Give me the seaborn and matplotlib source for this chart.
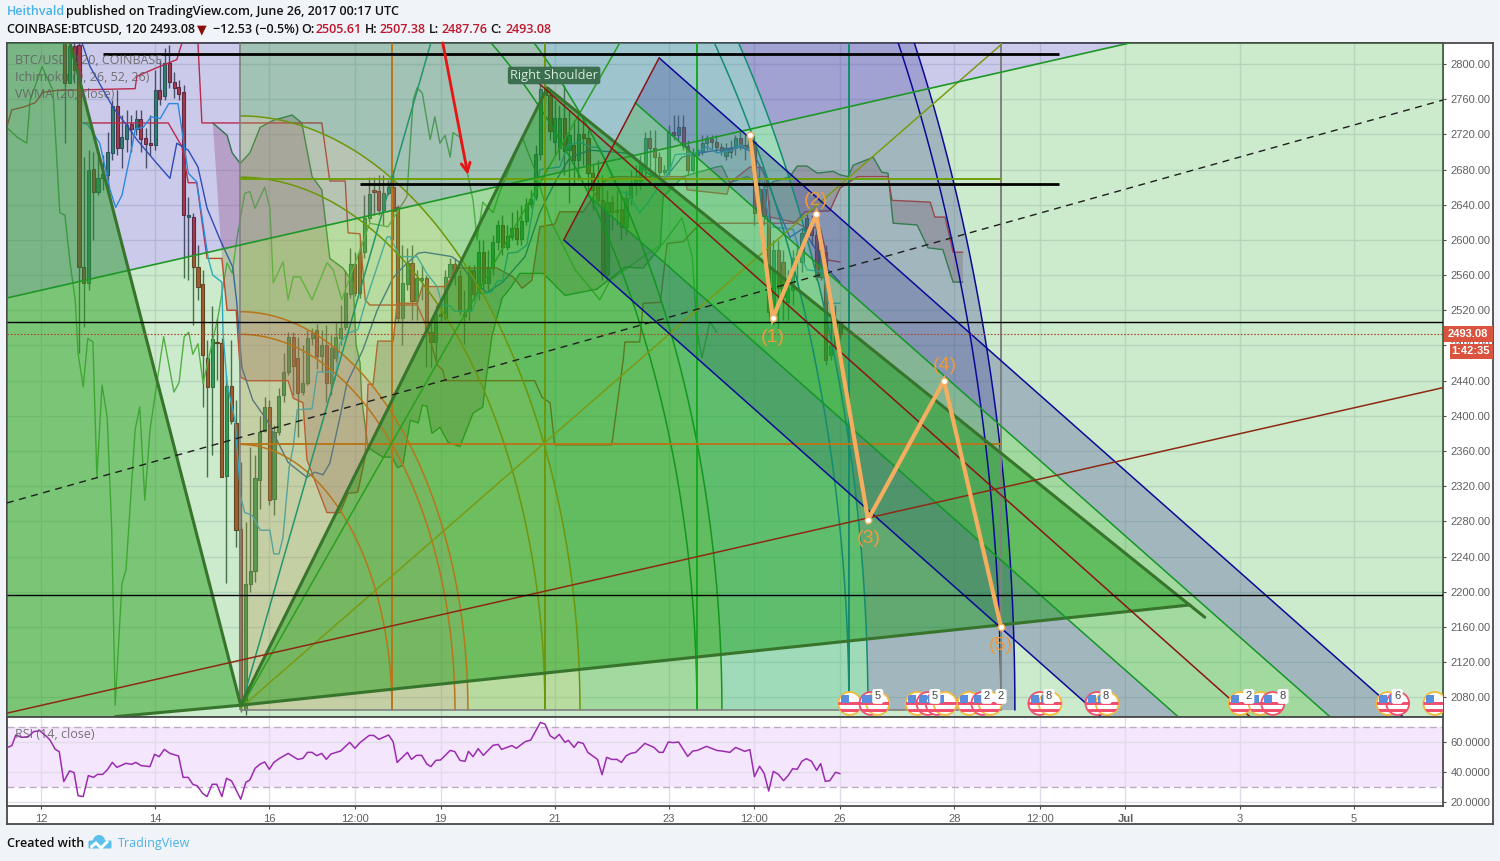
"""BTCUSD 2h TradingView chart with Ichimoku, Gann box and pitchfork drawings."""

import matplotlib.pyplot as plt
import numpy as np
import pandas as pd
import seaborn as sns
from matplotlib.patches import Circle, Ellipse, FancyBboxPatch, Polygon, Rectangle

# time axis is in days of June 2017 (Jul 1 = 31), one candle every 2 hours
FIRST_CANDLE_DAY = 12.417
OPENS = [2830, 2778, 2820, 2822, 2569, 2551, 2681, 2655, 2670, 2674, 2699, 2752, 2705, 2715, 2732, 2726, 2738, 2716, 2710, 2708,
         2770, 2764, 2801, 2780, 2774, 2768, 2626, 2626, 2569, 2550, 2466, 2433, 2484, 2483, 2332, 2434, 2392, 2271, 2066, 2209,
         2224, 2327, 2383, 2410, 2305, 2382, 2424, 2450, 2490, 2466, 2427, 2437, 2488, 2498, 2468, 2480, 2437, 2466, 2488, 2501,
         2539, 2573, 2585, 2586, 2625, 2656, 2656, 2634, 2653, 2660, 2637, 2511, 2550, 2574, 2531, 2555, 2557, 2495, 2484, 2516,
         2511, 2558, 2573, 2559, 2516, 2519, 2566, 2540, 2586, 2551, 2569, 2598, 2617, 2592, 2603, 2614, 2601, 2622, 2641, 2649,
         2698, 2772, 2765, 2711, 2705, 2739, 2702, 2708, 2691, 2720, 2716, 2676, 2665, 2645, 2560, 2643, 2634, 2635, 2615, 2648,
         2665, 2667, 2685, 2716, 2705, 2694, 2677, 2680, 2723, 2719, 2728, 2707, 2680, 2697, 2700, 2710, 2715, 2711, 2706, 2695,
         2704, 2704, 2716, 2708, 2705, 2711, 2631, 2658, 2627, 2512, 2589, 2575, 2529, 2543, 2580, 2575, 2608, 2615, 2606, 2558,
         2586, 2469, 2481, 2505.61]
CLOSES = [2778, 2820, 2793, 2569, 2551, 2679, 2655, 2670, 2675, 2700, 2752, 2705, 2717, 2731, 2726, 2738, 2715, 2709, 2708, 2770,
          2760, 2801, 2780, 2773, 2766, 2628, 2628, 2569, 2547, 2469, 2433, 2487, 2483, 2330, 2434, 2394, 2270, 2071, 2209, 2224,
          2329, 2382, 2410, 2304, 2382, 2423, 2450, 2490, 2457, 2426, 2437, 2488, 2494, 2468, 2480, 2437, 2477, 2490, 2500, 2540,
          2573, 2540, 2540, 2625, 2652, 2655, 2634, 2653, 2660, 2633, 2511, 2551, 2574, 2531, 2557, 2557, 2495, 2484, 2516, 2514,
          2558, 2573, 2564, 2519, 2514, 2566, 2538, 2586, 2551, 2569, 2598, 2617, 2592, 2604, 2614, 2601, 2622, 2641, 2647, 2698,
          2772, 2765, 2724, 2739, 2739, 2701, 2719, 2691, 2720, 2716, 2676, 2657, 2645, 2560, 2643, 2632, 2632, 2615, 2648, 2665,
          2670, 2685, 2716, 2705, 2694, 2677, 2680, 2723, 2719, 2728, 2707, 2680, 2697, 2702, 2710, 2716, 2711, 2706, 2701, 2704,
          2700, 2716, 2708, 2705, 2714, 2631, 2658, 2627, 2518, 2589, 2545, 2535, 2545, 2580, 2585, 2608, 2625, 2606, 2558, 2589,
          2463, 2480, 2505, 2493.08]
HIGHS = [2840, 2830, 2830, 2830, 2694, 2702, 2700, 2697, 2697, 2723, 2759, 2770, 2742, 2748, 2742, 2748, 2748, 2727, 2742, 2793,
         2805, 2818, 2822, 2791, 2782, 2776, 2649, 2631, 2594, 2566, 2486, 2525, 2511, 2489, 2446, 2486, 2418, 2347, 2279, 2365,
         2355, 2400, 2421, 2418, 2390, 2432, 2471, 2495, 2495, 2490, 2480, 2498, 2500, 2504, 2498, 2503, 2492, 2506, 2526, 2566,
         2591, 2586, 2600, 2651, 2672, 2672, 2674, 2674, 2668, 2680, 2640, 2594, 2591, 2594, 2566, 2571, 2560, 2509, 2526, 2526,
         2566, 2579, 2579, 2566, 2543, 2571, 2571, 2600, 2600, 2589, 2606, 2623, 2628, 2617, 2632, 2634, 2640, 2648, 2657, 2708,
         2776, 2776, 2770, 2759, 2753, 2776, 2748, 2736, 2742, 2742, 2725, 2685, 2691, 2674, 2657, 2651, 2657, 2651, 2657, 2680,
         2685, 2697, 2723, 2725, 2725, 2700, 2685, 2731, 2742, 2742, 2742, 2714, 2705, 2714, 2719, 2719, 2719, 2719, 2710, 2710,
         2714, 2719, 2725, 2719, 2722, 2719, 2685, 2668, 2645, 2600, 2600, 2589, 2566, 2589, 2594, 2614, 2630, 2628, 2628, 2600,
         2594, 2518, 2526, 2507.38]
LOWS = [2710, 2778, 2778, 2471, 2501, 2543, 2600, 2651, 2657, 2655, 2691, 2697, 2682, 2700, 2700, 2719, 2700, 2682, 2697, 2702,
        2753, 2759, 2773, 2761, 2759, 2557, 2554, 2503, 2532, 2410, 2330, 2355, 2441, 2330, 2210, 2391, 2251, 2063, 2060, 2200,
        2211, 2294, 2382, 2299, 2287, 2378, 2416, 2446, 2424, 2376, 2424, 2435, 2481, 2453, 2450, 2416, 2424, 2461, 2481, 2498,
        2534, 2536, 2534, 2579, 2620, 2628, 2628, 2617, 2651, 2600, 2507, 2481, 2543, 2509, 2509, 2532, 2455, 2455, 2460, 2507,
        2509, 2555, 2549, 2515, 2482, 2509, 2532, 2532, 2543, 2543, 2560, 2589, 2583, 2589, 2600, 2594, 2594, 2617, 2636, 2645,
        2691, 2753, 2714, 2697, 2691, 2674, 2642, 2662, 2668, 2685, 2657, 2634, 2640, 2554, 2554, 2611, 2617, 2600, 2606, 2640,
        2651, 2657, 2668, 2668, 2674, 2668, 2674, 2674, 2714, 2714, 2702, 2674, 2677, 2691, 2697, 2702, 2702, 2700, 2697, 2691,
        2693, 2697, 2702, 2691, 2702, 2617, 2623, 2617, 2509, 2503, 2498, 2509, 2509, 2526, 2549, 2564, 2600, 2594, 2555, 2555,
        2458, 2464, 2475, 2487.76]

KIJUN_DAYS = [11.40, 11.49, 11.69, 11.90, 12.04, 12.28, 13.65, 13.68, 14.00, 14.38, 14.47, 14.75, 14.82, 16.92, 17.06, 17.33, 17.38, 17.59, 17.68, 17.76, 18.59, 18.76, 18.94, 19.04, 19.08, 20.65, 20.78, 20.92, 21.00, 22.00, 22.20, 22.23, 22.49, 22.55, 22.85, 22.97, 23.25, 23.55, 25.25, 25.39, 25.65, 25.79, 26.00]
KIJUN_PRICES = [2728, 2748, 2751, 2756, 2768, 2770, 2772, 2786, 2795, 2805, 2824, 2824, 2733, 2733, 2667, 2667, 2608, 2607, 2532, 2526, 2526, 2501, 2458, 2452, 2440, 2440, 2421, 2415, 2367, 2367, 2463, 2484, 2484, 2528, 2529, 2596, 2598, 2619, 2619, 2614, 2614, 2577, 2575]
SPAN_B_DAYS = [12.65, 14.23, 14.47, 14.58, 14.73, 14.91, 15.17, 15.26, 15.42, 15.50, 15.61, 16.33, 16.42, 16.59, 16.66, 17.01, 17.24, 17.38, 17.55, 17.68, 17.73, 17.82, 17.90, 18.17, 18.24, 18.59, 18.68, 19.08, 19.20, 19.25, 19.99, 20.27, 20.43, 20.60, 20.74, 21.00, 21.09, 21.50, 21.85, 22.00, 23.28, 23.32, 24.02, 24.07, 24.42, 24.65, 24.72, 24.77, 25.21, 25.39, 25.82, 26.00, 26.31, 26.84, 26.91, 27.58, 27.66, 27.84, 27.98, 28.15]
SPAN_B_PRICES = [2733, 2733, 2706, 2665, 2665, 2579, 2579, 2520, 2520, 2444, 2440, 2440, 2420, 2415, 2350, 2290, 2290, 2312, 2313, 2353, 2436, 2436, 2485, 2485, 2528, 2528, 2547, 2547, 2558, 2568, 2568, 2558, 2545, 2554, 2615, 2618, 2632, 2632, 2666, 2672, 2672, 2657, 2652, 2665, 2683, 2682, 2665, 2626, 2620, 2632, 2633, 2659, 2672, 2672, 2645, 2643, 2626, 2626, 2586, 2586]
SPAN_A_DAYS = [15.01, 15.26, 15.35, 15.49, 15.66, 15.84, 16.07, 16.40, 16.57, 16.75, 16.92, 17.06, 17.29, 17.47, 17.52, 17.59, 17.62, 17.73, 17.99, 18.15, 18.25, 18.34, 18.47, 18.61, 18.68, 18.76, 18.85, 18.99, 19.13, 19.34, 19.57, 19.74, 19.78, 19.90, 20.08, 20.22, 20.39, 20.80, 21.18, 21.74, 22.23, 22.55, 22.85, 22.90, 23.25, 23.84, 23.93, 24.07, 24.37, 24.72, 24.82, 25.12, 25.25, 25.42, 25.60, 25.88, 26.00, 26.14, 26.23, 26.58, 26.73, 26.84, 26.93, 27.35, 27.54, 27.80, 27.98, 28.15]
SPAN_A_PRICES = [2733, 2719, 2699, 2687, 2699, 2728, 2736, 2742, 2733, 2672, 2657, 2579, 2568, 2551, 2481, 2460, 2418, 2364, 2353, 2353, 2341, 2344, 2395, 2392, 2412, 2411, 2380, 2387, 2370, 2365, 2403, 2410, 2433, 2490, 2534, 2545, 2562, 2562, 2537, 2544, 2569, 2568, 2592, 2649, 2672, 2683, 2684, 2665, 2672, 2660, 2666, 2672, 2684, 2684, 2676, 2678, 2674, 2672, 2685, 2694, 2677, 2676, 2619, 2617, 2591, 2589, 2552, 2552]
TENKAN_DAYS = [12.72, 12.82, 13.03, 13.21, 13.31, 13.42, 13.61, 13.65, 13.79, 13.93, 14.09, 14.24, 14.40, 14.58, 14.73, 14.93, 15.01, 15.17, 15.19, 15.26, 15.40, 15.50, 15.57, 15.70, 15.84, 16.01, 16.08, 16.17, 16.24, 16.35, 16.42, 16.49, 16.75, 16.84, 17.10, 17.15, 17.24, 17.38, 17.55, 17.68, 18.06, 18.11, 18.29, 18.59, 18.76, 18.94, 19.03, 19.17, 19.25, 19.55, 19.66, 19.90, 19.99, 20.09, 20.18, 20.34, 20.51, 20.65, 20.74, 21.09, 21.23, 21.44, 21.62, 21.79, 21.97, 22.14, 22.28, 22.49, 22.63, 22.90, 23.02, 23.11, 23.49, 23.67, 23.84, 24.12, 24.25, 24.42, 24.51, 24.65, 24.77, 25.18, 25.30, 25.42, 25.70, 25.79, 26.00]
TENKAN_PRICES = [2733, 2731, 2710, 2657, 2637, 2651, 2711, 2726, 2728, 2740, 2738, 2755, 2755, 2676, 2666, 2579, 2560, 2552, 2494, 2437, 2395, 2308, 2290, 2287, 2270, 2270, 2243, 2243, 2262, 2342, 2365, 2407, 2408, 2450, 2450, 2441, 2483, 2494, 2498, 2528, 2603, 2604, 2581, 2581, 2562, 2547, 2526, 2525, 2519, 2519, 2538, 2541, 2553, 2554, 2585, 2586, 2594, 2648, 2680, 2683, 2708, 2711, 2706, 2705, 2677, 2655, 2653, 2631, 2642, 2668, 2680, 2697, 2699, 2706, 2699, 2702, 2708, 2702, 2676, 2665, 2615, 2612, 2585, 2566, 2564, 2528, 2528]
VWMA_DAYS = [12.72, 12.86, 13.26, 13.53, 13.68, 14.03, 14.26, 14.38, 14.58, 14.75, 14.91, 15.14, 15.36, 15.43, 15.52, 15.71, 15.96, 16.33, 16.66, 16.80, 16.94, 17.06, 17.24, 17.36, 17.64, 17.89, 18.17, 18.34, 18.61, 18.73, 19.20, 19.34, 19.52, 19.81, 20.09, 20.48, 20.74, 21.00, 21.27, 21.62, 22.23, 22.37, 22.62, 22.90, 23.23, 23.55, 24.25, 24.47, 24.72, 24.90, 25.12, 25.35, 25.79, 26.00]
VWMA_PRICES = [2824, 2797, 2751, 2728, 2714, 2687, 2670, 2710, 2702, 2683, 2636, 2600, 2569, 2529, 2455, 2418, 2395, 2347, 2330, 2336, 2333, 2346, 2399, 2437, 2475, 2520, 2557, 2569, 2585, 2586, 2581, 2574, 2557, 2540, 2552, 2581, 2631, 2665, 2694, 2702, 2699, 2697, 2676, 2668, 2694, 2699, 2706, 2700, 2668, 2637, 2603, 2613, 2566, 2552]
LAGGING_DAYS = [11.40, 11.58, 11.75, 11.81, 12.02, 12.21, 12.33, 12.42, 12.51, 12.60, 12.65, 12.74, 12.82, 12.91, 12.98, 13.07, 13.16, 13.24, 13.30, 13.42, 13.49, 13.65, 13.73, 13.82, 13.91, 14.15, 14.33, 14.42, 14.51, 14.59, 14.66, 14.75, 14.84, 15.10, 15.26, 15.35, 15.43, 15.57, 15.66, 15.75, 15.92, 16.01, 16.07, 16.24, 16.33, 16.42, 16.54, 16.75, 17.01, 17.12, 17.27, 17.76, 18.08, 18.41, 18.52, 18.59, 18.68, 18.82, 18.90, 18.99, 19.08, 19.17, 19.22, 19.34, 19.57, 19.64, 19.74, 19.92, 20.04, 20.43, 20.65, 20.92, 21.36, 21.79, 21.97, 22.55, 22.90, 23.23, 23.41, 23.49, 23.58, 23.72, 23.84]
LAGGING_PRICES = [2728, 2717, 2710, 2759, 2797, 2770, 2631, 2628, 2574, 2532, 2471, 2433, 2488, 2484, 2330, 2435, 2399, 2270, 2071, 2210, 2225, 2384, 2410, 2304, 2384, 2490, 2427, 2438, 2490, 2495, 2470, 2482, 2437, 2512, 2574, 2562, 2600, 2653, 2655, 2636, 2660, 2636, 2551, 2575, 2532, 2558, 2558, 2532, 2574, 2566, 2532, 2619, 2615, 2649, 2759, 2773, 2767, 2714, 2740, 2710, 2719, 2694, 2722, 2717, 2645, 2600, 2643, 2631, 2655, 2717, 2680, 2623, 2566, 2532, 2554, 2581, 2596, 2625, 2581, 2498, 2466, 2507, 2495]

RSI_DAYS = [11.40, 11.49, 11.56, 11.66, 11.78, 11.87, 11.98, 12.10, 12.16, 12.25, 12.32, 12.40, 12.50, 12.58, 12.65, 12.74, 12.83, 12.92, 12.99, 13.08, 13.16, 13.25, 13.33, 13.49, 13.59, 13.66, 13.76, 13.91, 13.99, 14.07, 14.16, 14.26, 14.41, 14.49, 14.58, 14.66, 14.74, 14.83, 14.91, 15.00, 15.08, 15.17, 15.25, 15.34, 15.50, 15.59, 15.66, 15.75, 15.84, 15.92, 16.00, 16.08, 16.18, 16.33, 16.50, 16.59, 16.67, 16.75, 16.83, 16.92, 17.00, 17.08, 17.25, 17.41, 17.50, 17.59, 17.75, 17.83, 17.92, 18.09, 18.17, 18.24, 18.42, 18.49, 18.58, 18.67, 18.76, 18.83, 18.92, 19.00, 19.17, 19.25, 19.34, 19.43, 19.49, 19.57, 19.66, 19.75, 19.92, 20.01,
            20.07, 20.25, 20.33, 20.48, 20.58, 20.75, 20.83, 20.92, 21.00, 21.08, 21.18, 21.24, 21.34, 21.41, 21.50, 21.58, 21.75, 21.83, 21.91, 22.00, 22.09, 22.17, 22.25, 22.33, 22.42, 22.58, 22.74, 22.83, 22.90, 22.99, 23.08, 23.17, 23.33, 23.42, 23.50, 23.66, 23.84, 23.93, 24.07, 24.17, 24.33, 24.42, 24.50, 24.59, 24.67, 24.75, 24.83, 24.92, 25.01, 25.09, 25.17, 25.25, 25.33, 25.41, 25.50, 25.59, 25.66, 25.74, 25.82, 25.92, 26.00]
RSI_VALUES = [56.2, 57.6, 64.7, 63.1, 63.6, 66.9, 67.6, 63.6, 61.3, 55.1, 53.6, 33.6, 40.7, 39.6, 24.2, 23.6, 37.6, 36.4, 38.4, 38.4, 41.3, 46.4, 43.1, 45.8, 45.1, 46.4, 44.2, 43.6, 51.8, 50.2, 55.1, 52.4, 50.7, 36.4, 36.4, 31.8, 30.7, 25.8, 23.6, 31.8, 31.8, 23.6, 35.8, 34.0, 21.8, 33.1, 34.7, 42.4, 45.3, 46.7, 41.8, 46.4, 49.1, 52.4, 48.4, 49.1, 53.1, 53.1, 50.9, 52.4, 48.4, 52.0, 54.0, 59.8, 55.8, 59.6, 64.4, 64.4, 61.8, 64.7, 60.2, 46.4, 53.1, 48.4, 51.1, 51.1, 45.3, 43.6, 47.8, 48.0, 54.4, 53.6, 47.8, 47.1, 53.8, 50.2, 55.6, 51.1, 57.8, 58.4,
              55.1, 57.6, 55.8, 60.2, 61.3, 73.1, 72.0, 64.2, 62.2, 65.1, 59.8, 61.1, 56.4, 60.0, 59.1, 53.1, 48.4, 38.2, 49.8, 48.4, 48.4, 46.4, 50.7, 52.4, 53.1, 59.1, 56.4, 53.1, 53.1, 60.0, 59.6, 60.0, 50.4, 54.0, 54.4, 57.1, 54.4, 54.0, 53.1, 56.4, 53.8, 54.9, 36.9, 43.8, 39.1, 27.3, 40.4, 38.4, 34.2, 37.6, 42.2, 41.8, 47.1, 48.9, 47.1, 41.1, 45.6, 33.8, 34.2, 39.8, 38.9]

X_TICKS = [12, 14, 16, 17.5, 19, 21, 23, 24.5, 26, 28, 29.5, 31, 33, 35]
X_TICK_LABELS = ["12", "14", "16", "12:00", "19", "21", "23", "12:00", "26", "28", "12:00", "Jul", "3", "5"]
PRICE_TICKS = list(range(2080, 2801, 40))
RSI_TICKS = [20, 40, 60]

# drawings on the chart, in (day, price)
FAN_LINE_DAYS = [11.405, 31.08]
FAN_LINE_PRICES = [2534, 2824]
WEDGE_DAYS = [11.405, 12.51, 15.50, 13.30, 11.405]
WEDGE_PRICES = [2824, 2824, 2071, 2058, 2058]
TRIANGLE_DAYS = [15.50, 20.87, 32.13]
TRIANGLE_PRICES = [2071, 2773, 2185]
TRIANGLE_TAIL_DAY, TRIANGLE_TAIL_PRICE = 32.39, 2171
GANN_DAY, GANN_PRICE = 15.486, 2065.5
GANN_RADII = [2.663, 3.767, 3.994, 5.343, 5.957, 8.006, 8.444, 10.669, 11.002, 13.332, 13.577]
GANN_PRICE_PER_DAY = 113.4
GANN_LINE_COLORS = ["#b8761a"] * 3 + ["#6e960a"] * 2 + ["#14961e"] * 2 + ["#148c6e"] * 2 + ["#0a0a96"] * 2
GANN_BAND_EDGES = [0, 3.994, 5.957, 8.444, 11.002, 13.577]
GANN_BAND_COLORS = ["#b69148", "#8ab937", "#41b237", "#37b98c", "#41449b"]
GANN_COLUMNS = [18.149, 20.829, 23.492, 26.155, 28.818]
GANN_COLUMN_COLORS = ["#b8761a", "#6e960a", "#14aa1e", "#148c6e", "#808080"]
GANN_ROWS = [2669, 2368]
GANN_ROW_COLORS = ["#6ea00a", "#b8761a"]
FAN_APEX_DAY, FAN_APEX_PRICE = 15.50, 2068
FAN_END_DAYS = [18.83, 22.14, 28.82]
FAN_END_PRICES = [2824, 2824, 2822]
FAN_COLORS = ["#25966a", "#28a01e", "#7a9a14"]

FORK_START_DAYS = [22.83, 22.41, 20.69, 21.58, 21.16]
FORK_START_PRICES = [2807, 2756, 2780, 2651, 2600]
FORK_END_DAYS = [35.86, 34.58, 33.18, 31.92, 30.57]
FORK_END_PRICES = [2058, 2058, 2058, 2058, 2058]
FORK_COLORS = ["#0a0a96", "#149628", "#8c1414", "#149628", "#0a0a96"]

LEVEL_LINES = [2811, 2664, 2507, 2196]
LEVEL_STARTS = [13.09, 17.59, 11.405, 11.405]
LEVEL_ENDS = [29.83, 29.83, 36.56, 36.56]
LEVEL_WIDTHS = [2, 2, 1, 1]
MEDIAN_DAYS = [11.405, 36.56]
MEDIAN_PRICES = [2301, 2759]
BROWN_LINE_PRICES = [2062, 2432]

WAVE_DAYS = [24.42, 24.82, 25.58, 26.49, 27.82, 28.82]
WAVE_PRICES = [2719, 2511, 2629, 2282, 2440, 2160]
WAVE_LABEL_DAYS = [24.82, 25.58, 26.51, 27.84, 28.82]
WAVE_LABEL_PRICES = [2489, 2645, 2260, 2457, 2139]
WAVE_LABELS = ["(1)", "(2)", "(3)", "(4)", "(5)"]

LAST_PRICE = 2493.08
EVENT_DAYS = [26.17, 26.54, 26.66, 27.35, 27.54, 27.70, 27.84, 28.26, 28.50, 28.63, 29.50, 29.68, 30.50, 30.68, 33.01, 33.36, 33.58, 35.60, 35.77, 36.42]
EVENT_EDGES = ["o", "r", "o", "o", "r", "r", "o", "o", "r", "o", "r", "o", "r", "o", "o", "o", "r", "o", "r", "o"]
BADGE_DAYS = [26.66, 27.66, 28.57, 28.82, 29.66, 30.66, 33.16, 33.76, 35.76]
BADGE_LABELS = ["5", "5", "2", "2", "8", "8", "2", "8", "6"]

FONT_UI = "Open Sans"
FONT_AXIS = "Liberation Sans"
MUTED = "#5f5f5f"


def px_rect(left, top, right, bottom):
    return [left / 1500, 1 - bottom / 861, (right - left) / 1500, (bottom - top) / 861]


def draw_candles(ax):
    df = pd.DataFrame({"open": OPENS, "close": CLOSES, "high": HIGHS, "low": LOWS})
    df["day"] = FIRST_CANDLE_DAY + df.index / 12
    rising = df["close"] >= df["open"]
    ax.vlines(df["day"], df["low"], df["high"], color="#4d5a50", lw=1, zorder=2)
    bottoms = df[["open", "close"]].min(axis=1)
    heights = (df["close"] - df["open"]).abs().clip(lower=1.5)
    ax.bar(df["day"][rising], heights[rising], bottom=bottoms[rising], width=0.055,
           color="#2f9a5c", edgecolor="#2c5f45", linewidth=0.8, zorder=2.1)
    ax.bar(df["day"][~rising], heights[~rising], bottom=bottoms[~rising], width=0.055,
           color="#c8402c", edgecolor="#6e2620", linewidth=0.8, zorder=2.1)


def draw_ichimoku(ax):
    days_b = np.array(SPAN_B_DAYS)
    keep = days_b >= 15.0
    cloud_x = np.concatenate([SPAN_A_DAYS, days_b[keep][::-1]])
    cloud_y = np.concatenate([SPAN_A_PRICES, np.array(SPAN_B_PRICES)[keep][::-1]])
    ax.fill(cloud_x, cloud_y, color="#a8506e", alpha=0.32, lw=0, zorder=2.2)
    lines = [
        (LAGGING_DAYS, LAGGING_PRICES, "#5cb04a"),
        (SPAN_A_DAYS, SPAN_A_PRICES, "#2e8b2e"),
        (SPAN_B_DAYS, SPAN_B_PRICES, "#e8282a"),
        (KIJUN_DAYS, KIJUN_PRICES, "#e8282a"),
        (VWMA_DAYS, VWMA_PRICES, "#2f55b8"),
        (TENKAN_DAYS, TENKAN_PRICES, "#2aa8f0"),
    ]
    for xs, ys, color in lines:
        sns.lineplot(x=xs, y=ys, color=color, lw=1, sort=False, estimator=None, ax=ax, zorder=2.3)


def arc_points(radius, start=0, stop=np.pi / 2):
    theta = np.linspace(start, stop, 120)
    return (GANN_DAY + radius * np.cos(theta),
            GANN_PRICE + radius * GANN_PRICE_PER_DAY * np.sin(theta))


def draw_fills(ax):
    x_lo, x_hi = ax.get_xlim()
    y_lo, y_hi = ax.get_ylim()
    ax.fill([FAN_LINE_DAYS[0], FAN_LINE_DAYS[1], x_lo], [FAN_LINE_PRICES[0], FAN_LINE_PRICES[1], y_hi],
            color="#332faf", alpha=0.25, lw=0, zorder=3)
    ax.fill([FAN_LINE_DAYS[0], FAN_LINE_DAYS[1], x_hi, x_hi, x_lo],
            [FAN_LINE_PRICES[0], FAN_LINE_PRICES[1], y_hi, y_lo, y_lo],
            color="#37af37", alpha=0.25, lw=0, zorder=3)
    ax.fill(WEDGE_DAYS, WEDGE_PRICES, color="#2ba123", alpha=0.5, lw=0, zorder=3.1)

    for inner, outer, color in zip(GANN_BAND_EDGES[:-1], GANN_BAND_EDGES[1:], GANN_BAND_COLORS):
        ox, oy = arc_points(outer)
        ix, iy = arc_points(inner, np.pi / 2, 0)
        ax.fill(np.concatenate([ox, ix]), np.concatenate([oy, iy]), color=color, alpha=0.3, lw=0, zorder=3.2)

    # pitchfork bands, outer pair blue and the middle one green
    band_colors = ["#41449b", "#41b237", None, "#41449b"]
    pairs = [(0, 1), (1, 3), (3, 4)]
    for (a, b), color in zip(pairs, ["#41449b", "#41b237", "#41449b"]):
        xs = [FORK_START_DAYS[a], FORK_START_DAYS[b], FORK_END_DAYS[b], FORK_END_DAYS[a]]
        ys = [FORK_START_PRICES[a], FORK_START_PRICES[b], FORK_END_PRICES[b], FORK_END_PRICES[a]]
        ax.fill(xs, ys, color=color, alpha=0.3, lw=0, zorder=3.3)

    ax.fill(TRIANGLE_DAYS, TRIANGLE_PRICES, color="#009400", alpha=0.4, lw=0, zorder=3.4)


def draw_tools(ax):
    for rad, color in zip(GANN_RADII, GANN_LINE_COLORS):
        xs, ys = arc_points(rad)
        ax.plot(xs, ys, color=color, lw=1.1, zorder=4)
    top = ax.get_ylim()[1]
    ax.vlines(GANN_DAY, GANN_PRICE, top, color="#808080", lw=1.2, zorder=4)
    ax.vlines(GANN_COLUMNS, GANN_PRICE, top, colors=GANN_COLUMN_COLORS, lw=1.4, zorder=4)
    ax.hlines(GANN_PRICE, GANN_DAY, GANN_COLUMNS[-1], color="#808080", lw=1.2, zorder=4)
    ax.hlines(GANN_ROWS, GANN_DAY, GANN_COLUMNS[-1], colors=GANN_ROW_COLORS, lw=1.4, zorder=4)
    for end_x, end_y, color in zip(FAN_END_DAYS, FAN_END_PRICES, FAN_COLORS):
        ax.plot([FAN_APEX_DAY, end_x], [FAN_APEX_PRICE, end_y], color=color, lw=1.1, zorder=4)
    ax.plot(FAN_LINE_DAYS, FAN_LINE_PRICES, color="#1e9628", lw=1.2, zorder=4)

    ax.plot([WEDGE_DAYS[1], WEDGE_DAYS[2], WEDGE_DAYS[3]], [WEDGE_PRICES[1], WEDGE_PRICES[2], WEDGE_PRICES[3]],
            color="#38752c", lw=2.2, zorder=4.1)
    ax.plot(TRIANGLE_DAYS[:2] + [TRIANGLE_TAIL_DAY], TRIANGLE_PRICES[:2] + [TRIANGLE_TAIL_PRICE],
            color="#38752c", lw=2.2, zorder=4.1)
    ax.plot([TRIANGLE_DAYS[0], TRIANGLE_DAYS[2]], [TRIANGLE_PRICES[0], TRIANGLE_PRICES[2]],
            color="#38752c", lw=2.2, zorder=4.1)

    for sx, sy, ex, ey, color in zip(FORK_START_DAYS, FORK_START_PRICES, FORK_END_DAYS, FORK_END_PRICES, FORK_COLORS):
        ax.plot([sx, ex], [sy, ey], color=color, lw=1.1, zorder=4.2)
    ax.plot([FORK_START_DAYS[0], FORK_START_DAYS[4]], [FORK_START_PRICES[0], FORK_START_PRICES[4]],
            color="#8c1414", lw=1.1, zorder=4.2)

    ax.plot(MEDIAN_DAYS, MEDIAN_PRICES, color="#1e1e1e", lw=1, dashes=(5, 4), zorder=4.3)
    ax.plot(MEDIAN_DAYS, BROWN_LINE_PRICES, color="#8c2a14", lw=1.1, zorder=4.3)
    for price, start, end, width in zip(LEVEL_LINES, LEVEL_STARTS, LEVEL_ENDS, LEVEL_WIDTHS):
        ax.hlines(price, start, end, color="black", lw=width, zorder=4.4)
    ax.axhline(LAST_PRICE, color="#a8482e", lw=0.8, ls=(0, (1.5, 1.5)), zorder=4.4)

    ax.annotate("", xy=(19.48, 2674), xytext=(19.04, 2824), zorder=4.5,
                arrowprops=dict(arrowstyle="->", color="#e81414", lw=2, mutation_scale=16, shrinkA=0, shrinkB=0))

    ax.plot(WAVE_DAYS, WAVE_PRICES, color="#f5ae60", lw=3, solid_joinstyle="miter", zorder=5)
    ax.scatter(WAVE_DAYS, WAVE_PRICES, s=22, color="white", edgecolor="#f5ae60", linewidth=1, zorder=5.1)
    for x, y, label in zip(WAVE_LABEL_DAYS, WAVE_LABEL_PRICES, WAVE_LABELS):
        ax.text(x, y, label, color="#ee9a3c", fontsize=14, ha="center", va="center", family=FONT_AXIS, zorder=5.2)

    ax.text(20.99, 2787, "Right Shoulder", color="#d6ecdc", fontsize=9.2, ha="center", va="center",
            family=FONT_UI, zorder=5.5,
            bbox=dict(boxstyle="round,pad=0.18", fc="#3c6e50", ec="none"))


def draw_events(ax):
    rad_x, rad_y = 0.2, 13
    center_y = 2073
    edge_colors = {"o": "#f5b93c", "r": "#f0506e"}
    for day, edge in zip(EVENT_DAYS, EVENT_EDGES):
        disc = Ellipse((day, center_y), 2 * rad_x, 2 * rad_y, fc="white", ec=edge_colors[edge], lw=1.3, zorder=6)
        ax.add_patch(disc)
        shapes = [
            Rectangle((day - rad_x, center_y - 1.5), 2 * rad_x, 3.5, fc="#f0506e", ec="none", zorder=6.1),
            Rectangle((day - rad_x, center_y - 9.5), 2 * rad_x, 3.5, fc="#f0506e", ec="none", zorder=6.1),
            Rectangle((day - 0.16, center_y), 0.14, 9.5, fc="#5a8edc", ec="none", zorder=6.2),
        ]
        for shape in shapes:
            ax.add_patch(shape)
            shape.set_clip_path(disc)
    for day, label in zip(BADGE_DAYS, BADGE_LABELS):
        ax.text(day, 2081, label, fontsize=8, color="#444444", ha="center", va="center", family=FONT_AXIS,
                zorder=6.5, bbox=dict(boxstyle="round,pad=0.22", fc="white", ec="none"))


def draw_rsi(ax):
    ax.axhspan(30, 70, color="#f4e6fd", lw=0, zorder=0.2)
    ax.hlines([30, 70], ax.get_xlim()[0], ax.get_xlim()[1], color="#bdaac3", lw=1, linestyles=(0, (5, 3)), zorder=1)
    sns.lineplot(x=RSI_DAYS, y=RSI_VALUES, color="#9b2caf", lw=1.1, sort=False, estimator=None, ax=ax, zorder=3)


def style_axis(ax):
    ax.set_axisbelow(True)
    ax.set_xlabel("")
    ax.set_ylabel("")
    ax.yaxis.tick_right()
    for spine in ax.spines.values():
        spine.set_visible(True)
        spine.set_color("#4a4a4a")
        spine.set_linewidth(1.3)


def draw_chrome(fig):
    ax = fig.add_axes([0, 0, 1, 1], zorder=10)
    ax.set_xlim(0, 1500)
    ax.set_ylim(861, 0)
    ax.axis("off")
    ui = dict(family=FONT_UI, fontsize=9, va="center", fontweight="semibold", color="#111111")
    ax.text(7, 11.5, "Heithvald", **{**ui, "color": "#49b2e6"})
    ax.text(66, 11.5, "published on TradingView.com, June 26, 2017 00:17 UTC", **ui)
    ax.text(7, 29.5, "COINBASE:BTCUSD, 120", **ui)
    ax.text(150, 29.5, "2493.08", **ui)
    ax.text(197, 29.5, "▼", color="#8c0a0a", fontsize=9, va="center", family="DejaVu Sans")
    ax.text(213, 29.5, "−12.53 (−0.5%)", **ui)
    for x, label, val_x, value in [(301, "O:", 316, "2505.61"), (365, "H:", 380, "2507.38"),
                                   (429, "L:", 441, "2487.76"), (490, "C:", 505, "2493.08")]:
        ax.text(x, 29.5, label, **ui)
        ax.text(val_x, 29.5, value, **{**ui, "color": "#c0152b"})

    legend = dict(family=FONT_UI, fontsize=9, va="center", color=MUTED, alpha=0.85, fontweight="medium")
    ax.text(15, 60.5, "BTC/USD, 120, COINBASE", **legend)
    ax.text(15, 77.5, "Ichimoku (9, 26, 52, 26)", **legend)
    ax.text(15, 94.5, "VWMA (20, close)", **legend)
    ax.text(15, 734.5, "RSI (14, close)", **legend)

    ax.add_patch(Rectangle((1443.5, 326), 49, 16, fc="#d9533f", ec="none"))
    ax.text(1468, 334, f"{LAST_PRICE:.2f}", color="white", fontsize=8, fontweight="bold", ha="center", va="center",
            family=FONT_AXIS)
    ax.add_patch(Rectangle((1450, 344), 43, 15, fc="#d9533f", ec="none"))
    ax.text(1471, 351.5, "1:42:35", color="white", fontsize=8, fontweight="bold", ha="center", va="center",
            family=FONT_AXIS)

    ax.text(7, 843.5, "Created with", **ui)
    ax.add_patch(Circle((99, 841), 6, fc="#5cc0ec", ec="none"))
    ax.add_patch(FancyBboxPatch((90, 842), 20, 5, boxstyle="round,pad=1.5", fc="#5cc0ec", ec="none"))
    ax.add_patch(Polygon([(90, 846), (96, 841), (101, 846), (107, 840), (109, 842), (101, 850), (96, 845), (91, 849)],
                         fc="white", ec="none"))
    ax.text(118, 843.5, "TradingView", **{**ui, "color": "#49b2e6", "fontweight": "medium"})


def main():
    sns.set_theme(style="white")
    plt.rcParams["font.family"] = [FONT_AXIS, "DejaVu Sans"]
    fig = plt.figure(figsize=(15, 8.61), dpi=100, facecolor="#f0f3f7")

    frame = fig.add_axes(px_rect(7, 43, 1493, 824), zorder=0)
    frame.set_xticks([])
    frame.set_yticks([])
    frame.set_facecolor("white")
    style_axis(frame)
    frame.set_yticks([])

    ax = fig.add_axes(px_rect(7, 43, 1443, 717), zorder=1)
    ax_rsi = fig.add_axes(px_rect(7, 717, 1443, 806), zorder=1)
    x_limits = (11.405, 36.563)
    ax.set_xlim(*x_limits)
    ax.set_ylim(2057.6, 2823.9)
    ax_rsi.set_xlim(*x_limits)
    ax_rsi.set_ylim(17.3, 76.7)

    draw_candles(ax)
    draw_ichimoku(ax)
    ax.set_xlim(*x_limits)
    ax.set_ylim(2057.6, 2823.9)
    draw_fills(ax)
    draw_tools(ax)
    draw_events(ax)
    ax.set_xlim(*x_limits)
    ax.set_ylim(2057.6, 2823.9)
    draw_rsi(ax_rsi)
    ax_rsi.set_xlim(*x_limits)
    ax_rsi.set_ylim(17.3, 76.7)

    style_axis(ax)
    style_axis(ax_rsi)
    ax.grid(True, color="#dfe4e8", lw=1)
    ax_rsi.grid(True, color="#e2dcea", lw=1)
    ax.set_xticks(X_TICKS)
    ax.tick_params(axis="x", length=0, labelbottom=False)
    ax.set_yticks(PRICE_TICKS)
    ax.set_yticklabels([f"{v:.2f}" for v in PRICE_TICKS])
    ax_rsi.set_xticks(X_TICKS)
    ax_rsi.set_xticklabels(X_TICK_LABELS)
    ax_rsi.set_yticks(RSI_TICKS)
    ax_rsi.set_yticklabels([f"{v:.4f}" for v in RSI_TICKS])
    for axis in (ax, ax_rsi):
        axis.tick_params(axis="y", length=2.5, width=0.8, pad=3, labelsize=8, labelcolor="#606060", color="#4a4a4a",
                         right=True, left=False)
    ax_rsi.tick_params(axis="x", length=2.5, width=0.8, pad=3, labelsize=8, labelcolor="#606060", color="#4a4a4a",
                       bottom=True)
    for label in ax_rsi.get_xticklabels():
        if label.get_text() == "Jul":
            label.set_fontweight("bold")

    draw_chrome(fig)
    fig.savefig("out.png", dpi=100, facecolor=fig.get_facecolor())


main()
